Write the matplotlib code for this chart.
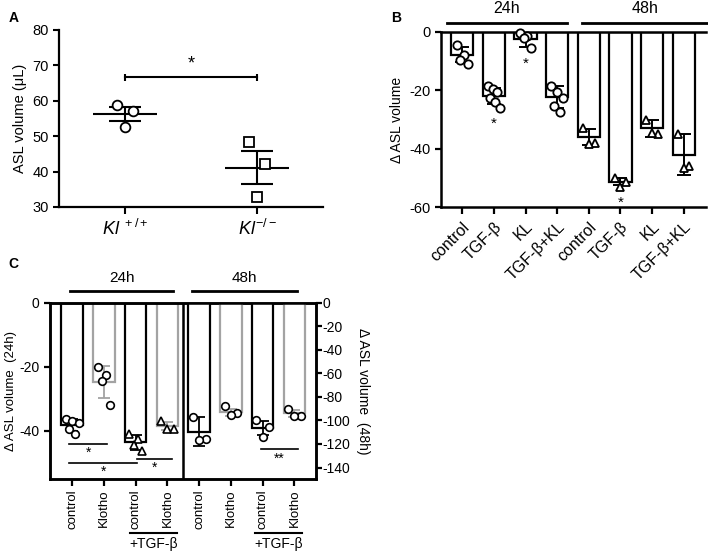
import matplotlib.pyplot as plt
import numpy as np

plt.rcParams['font.family'] = ['Liberation Sans', 'DejaVu Sans']
plt.rcParams['mathtext.fontset'] = 'custom'
plt.rcParams['mathtext.rm'] = 'Liberation Sans'
plt.rcParams['mathtext.it'] = 'Liberation Sans:italic'

GREY = '#a3a3a3'

# ---- Panel A data
a_labels = [r'$Kl^{\ +/+}$', r'$Kl^{-/-}$']
a_points = [[58.9, 57.2, 52.5], [48.3, 42.2, 32.7]]
a_mean = [56.2, 41.1]
a_sem = [2.0, 4.6]
a_markers = ['o', 's']

# ---- Panel B data
b_labels = ['control', 'TGF-β', 'KL', 'TGF-β+KL'] * 2
b_mean = [-7.8, -22.0, -2.6, -22.4, -36.0, -51.2, -33.0, -42.0]
b_sd = [2.6, 2.6, 2.6, 3.8, 2.8, 1.3, 2.8, 7.0]
b_points = [[-4.5, -8.0, -9.5, -11.0],
            [-18.5, -19.5, -20.5, -22.5, -24.0, -26.0],
            [-0.5, -1.5, -2.0, -5.5],
            [-18.5, -20.5, -22.5, -25.5, -27.5],
            [-33.0, -38.0, -38.5],
            [-50.0, -51.5, -53.0],
            [-30.0, -35.0, -34.5],
            [-35.0, -46.0, -46.5]]
b_markers = ['o', 'o', 'o', 'o', '^', '^', '^', '^']
b_star = [False, True, True, False, False, True, False, False]

# ---- Panel C data
c_labels = ['control', 'Klotho', 'control', 'Klotho'] * 2
c24_mean = [-38.2, -24.7, -43.7, -38.5]
c24_sd = [2.0, 5.0, 2.5, 1.3]
c24_points = [[-36.5, -37.0, -37.5, -39.5, -41.0],
              [-20.0, -22.5, -24.5, -32.0],
              [-41.0, -42.5, -44.5, -46.5],
              [-37.0, -39.5, -39.5]]
c24_markers = ['o', 'o', '^', '^']
c48_mean = [-109.5, -93.0, -106.6, -94.0]
c48_sd = [12.0, 3.0, 6.0, 3.0]
c48_points = [[-97.0, -116.0, -117.0],
              [-88.0, -94.0, -95.0],
              [-100.0, -106.0, -114.0],
              [-90.0, -96.5, -96.0]]
c_edges = ['k', GREY, 'k', GREY]
# (x start, x end, y line, label) in axis units
c24_sig = [(-0.1, 1.1, -44.2, '*'), (-0.1, 2.05, -50.2, '*'), (2.05, 3.15, -48.8, '*')]
c48_sig = [(5.95, 7.1, -124.3, '**')]


def spread(n, w=0.2):
    # zig-zag horizontal offsets so points do not stack
    if n == 1:
        return np.zeros(1)
    offs = np.linspace(-w, w, n)
    order = np.argsort(np.arange(n) % 2, kind='stable')
    return offs[order]


fig = plt.figure(figsize=(7.08, 5.53), dpi=100)

# ================= Panel A
ax = fig.add_axes([0.0833, 0.6257, 0.3729, 0.3206])
for i, pts in enumerate(a_points):
    xs = i + spread(len(pts), 0.06)
    ax.plot(xs, pts, a_markers[i], ms=7, mfc='white', mec='k', mew=1.3, zorder=3)
    ax.hlines(a_mean[i], i - 0.24, i + 0.24, color='k', lw=1.5)
    ax.hlines([a_mean[i] - a_sem[i], a_mean[i] + a_sem[i]], i - 0.12, i + 0.12, color='k', lw=1.5)
    ax.vlines(i, a_mean[i] - a_sem[i], a_mean[i] + a_sem[i], color='k', lw=1.5)
ax.plot([0, 1], [66.6, 66.6], color='k', lw=1.5)
ax.vlines([0, 1], 65.6, 67.6, color='k', lw=1.5)
ax.text(0.5, 68.0, '*', ha='center', va='bottom', fontsize=13)
ax.set_xlim(-0.5, 1.5)
ax.set_ylim(30, 80)
ax.set_yticks([30, 40, 50, 60, 70, 80])
ax.set_xticks([0, 1])
ax.set_xticklabels(a_labels, fontsize=13)
ax.tick_params(axis='y', labelsize=10.5, width=1.5, length=4)
ax.tick_params(axis='x', width=1.5, length=5)
ax.set_ylabel('ASL volume (μL)', fontsize=10.5)
for s in ['top', 'right']:
    ax.spines[s].set_visible(False)
for s in ['left', 'bottom']:
    ax.spines[s].set_linewidth(1.6)
fig.text(0.012, 0.98, 'A', fontsize=10, fontweight='bold', va='top')

# ================= Panel B
bx = fig.add_axes([0.623, 0.625, 0.374, 0.3177])
xb = np.arange(len(b_mean))
bx.bar(xb, b_mean, width=0.7, color='white', edgecolor='k', linewidth=1.6, zorder=2)
bx.errorbar(xb, b_mean, yerr=b_sd, fmt='none', ecolor='k', elinewidth=1.4,
            capsize=5, capthick=1.4, zorder=3)
for i, pts in enumerate(b_points):
    xs = i + spread(len(pts), 0.18)
    bx.plot(xs, pts, b_markers[i], ms=6, mfc='white', mec='k', mew=1.3, zorder=4, clip_on=False)
    if b_star[i]:
        bx.text(i, min(pts) - 3.0, '*', ha='center', va='top', fontsize=11)
bx.set_xlim(-0.67, 7.7)
bx.set_ylim(-60, 0)
bx.set_yticks([-60, -40, -20, 0])
bx.set_yticklabels(['-60', '-40', '-20', '0'])
bx.set_xticks(xb)
bx.set_xticklabels(b_labels, rotation=45, ha='right', rotation_mode='anchor', fontsize=11.5)
bx.tick_params(axis='y', labelsize=10.5, width=1.6, length=4)
bx.tick_params(axis='x', width=1.6, length=5)
bx.set_ylabel('Δ ASL volume', fontsize=10)
bx.spines['right'].set_visible(False)
for s in ['left', 'bottom', 'top']:
    bx.spines[s].set_linewidth(1.8)
tb = bx.get_xaxis_transform()
for (x0, x1, lab) in [(-0.48, 3.3, '24h'), (3.78, 7.75, '48h')]:
    bx.plot([x0, x1], [1.051, 1.051], color='k', lw=2, transform=tb, clip_on=False)
    bx.text((x0 + x1) / 2, 1.09, lab, transform=tb, ha='center', va='bottom', fontsize=11.5)
fig.text(0.553, 0.98, 'B', fontsize=10, fontweight='bold', va='top')

# ================= Panel C
cx = fig.add_axes([0.0706, 0.1333, 0.3753, 0.3193])
cx2 = cx.twinx()
x24 = np.arange(4)
x48 = np.arange(4, 8)
cx.bar(x24, c24_mean, width=0.68, color='white', edgecolor=c_edges, linewidth=1.6, zorder=2)
cx2.bar(x48, c48_mean, width=0.68, color='white', edgecolor=c_edges, linewidth=1.6, zorder=2)
for i in range(4):
    cx.errorbar(x24[i], c24_mean[i], yerr=c24_sd[i], fmt='none', ecolor=c_edges[i],
                elinewidth=1.3, capsize=4, capthick=1.3, zorder=3)
    cx2.errorbar(x48[i], c48_mean[i], yerr=c48_sd[i], fmt='none', ecolor=c_edges[i],
                 elinewidth=1.3, capsize=4, capthick=1.3, zorder=3)
    pts = c24_points[i]
    cx.plot(x24[i] + spread(len(pts), 0.2), pts, c24_markers[i], ms=5.5, mfc='white',
            mec='k', mew=1.2, zorder=4)
    pts = c48_points[i]
    cx2.plot(x48[i] + spread(len(pts), 0.2), pts, 'o', ms=5.5, mfc='white',
             mec='k', mew=1.2, zorder=4)
for (x0, x1, y, lab) in c24_sig:
    cx.plot([x0, x1], [y, y], color='k', lw=1.2)
    cx.text((x0 + x1) / 2, y - 0.6, lab, ha='center', va='top', fontsize=10)
for (x0, x1, y, lab) in c48_sig:
    cx2.plot([x0, x1], [y, y], color='k', lw=1.2)
    cx2.text((x0 + x1) / 2, y - 2, lab, ha='center', va='top', fontsize=10)
cx.axvline(3.48, color='k', lw=1.8)
cx.set_xlim(-0.7, 7.67)
cx.set_ylim(-55.2, 0)
cx2.set_ylim(-150, 0)
cx.set_yticks([-40, -20, 0])
cx.set_yticklabels(['-40', '-20', '0'])
cx2.set_yticks(np.arange(-140, 1, 20))
cx2.set_yticklabels([str(v) for v in np.arange(-140, 1, 20)])
cx.set_xticks(np.arange(8))
cx.set_xticklabels(c_labels, rotation=90, fontsize=9.5)
cx.tick_params(axis='y', labelsize=10, width=1.6, length=4)
cx2.tick_params(axis='y', labelsize=10, width=1.6, length=4, pad=1)
cx.tick_params(axis='x', width=1.6, length=5, pad=2)
for a in (cx, cx2):
    for s in a.spines.values():
        s.set_linewidth(1.8)
cx.set_ylabel('Δ ASL volume  (24h)', fontsize=9.5, labelpad=2)
cx2.set_ylabel('Δ ASL volume  (48h)', fontsize=10, rotation=270, labelpad=14)
tc = cx.get_xaxis_transform()
for (x0, x1, lab) in [(-0.07, 3.18, '24h'), (3.78, 7.09, '48h')]:
    cx.plot([x0, x1], [1.068, 1.068], color='k', lw=2, transform=tc, clip_on=False)
    cx.text((x0 + x1) / 2, 1.1, lab, transform=tc, ha='center', va='bottom', fontsize=11)
for (x0, x1) in [(1.82, 3.29), (5.76, 7.24)]:
    cx.plot([x0, x1], [-0.305, -0.305], color='k', lw=1.5, transform=tc, clip_on=False)
    cx.text((x0 + x1) / 2, -0.325, '+TGF-β', transform=tc, ha='center', va='top', fontsize=10)
fig.text(0.012, 0.535, 'C', fontsize=10, fontweight='bold', va='top')

fig.savefig('out.png', dpi=100)
